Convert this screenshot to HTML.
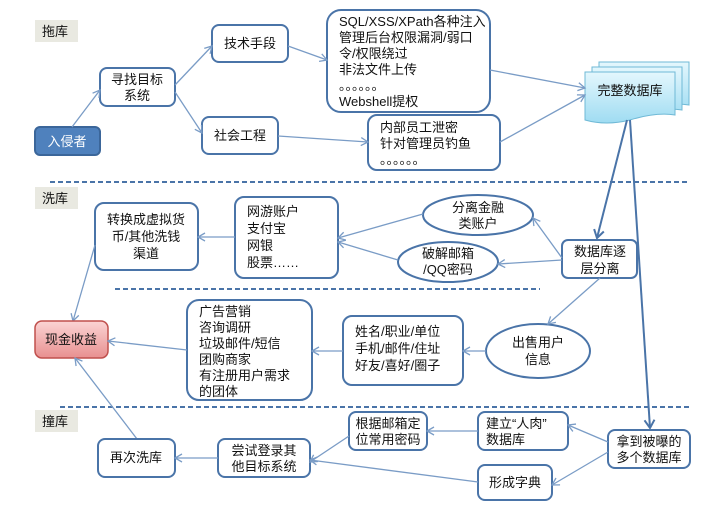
<!DOCTYPE html>
<html><head><meta charset="utf-8"><style>
html,body{margin:0;padding:0;background:#fff;}
svg{display:block;}
text{font-family:"Liberation Sans","Noto Sans CJK SC",sans-serif;font-size:13px;fill:#111;}
.b{fill:#fff;stroke:#4a74a8;stroke-width:2;}
.l{stroke:#7a9cc6;stroke-width:1.3;fill:none;marker-end:url(#a);}
.L{stroke:#4a74a8;stroke-width:2;fill:none;marker-end:url(#a2);}
.d{stroke:#4a74a8;stroke-width:2;stroke-dasharray:5,3;}
</style></head><body>
<svg width="709" height="516" viewBox="0 0 709 516">
<defs>
<marker id="a" markerWidth="10" markerHeight="10" refX="8" refY="5" orient="auto" markerUnits="userSpaceOnUse"><path d="M1,1 L8,5 L1,9" fill="none" stroke="#7a9cc6" stroke-width="1.3"/></marker>
<marker id="a2" markerWidth="12" markerHeight="12" refX="9" refY="6" orient="auto" markerUnits="userSpaceOnUse"><path d="M1,1 L9,6 L1,11" fill="none" stroke="#4a74a8" stroke-width="2"/></marker>
<linearGradient id="p" x1="0" y1="0" x2="0" y2="1"><stop offset="0" stop-color="#fbd4d4"/><stop offset="1" stop-color="#e89090"/></linearGradient>
<linearGradient id="c" x1="0" y1="0" x2="0" y2="1"><stop offset="0" stop-color="#e4f7fd"/><stop offset="1" stop-color="#9fdcf2"/></linearGradient>
</defs>
<!-- labels -->
<rect x="35" y="20" width="43" height="22" fill="#e9e9e1"/><text x="42" y="36">拖库</text>
<rect x="35" y="187" width="43" height="22" fill="#e9e9e1"/><text x="42" y="203">洗库</text>
<rect x="35" y="410" width="43" height="22" fill="#e9e9e1"/><text x="42" y="426">撞库</text>
<!-- dashed -->
<line class="d" x1="50" y1="182" x2="690" y2="182"/>
<line class="d" x1="115" y1="289" x2="540" y2="289"/>
<line class="d" x1="60" y1="407" x2="690" y2="407"/>
<!-- top section -->
<rect x="35" y="127" width="65" height="28" rx="5" fill="#4f81bd" stroke="#3b669a" stroke-width="2"/><text x="67" y="146" text-anchor="middle" style="fill:#fff">入侵者</text>
<rect class="b" x="100" y="68" width="75" height="38" rx="7"/><text x="137" y="84" text-anchor="middle">寻找目标</text><text x="137" y="100" text-anchor="middle">系统</text>
<rect class="b" x="212" y="25" width="76" height="37" rx="7"/><text x="250" y="48" text-anchor="middle">技术手段</text>
<rect class="b" x="202" y="117" width="76" height="37" rx="7"/><text x="240" y="140" text-anchor="middle">社会工程</text>
<rect class="b" x="327" y="10" width="163" height="102" rx="14"/>
<text x="339" y="26">SQL/XSS/XPath各种注入</text><text x="339" y="42">管理后台权限漏洞/弱口</text><text x="339" y="58">令/权限绕过</text><text x="339" y="74">非法文件上传</text><text x="339" y="90">。。。。。。</text><text x="339" y="106">Webshell提权</text>
<rect class="b" x="368" y="115" width="132" height="55" rx="9"/><text x="380" y="132">内部员工泄密</text><text x="380" y="148">针对管理员钓鱼</text><text x="380" y="164">。。。。。。</text>
<g stroke="#6fb9d6" stroke-width="1" fill="url(#c)">
<path d="M599,62 H689 V105 Q670,102 644,110 Q620,116 599,110 Z"/>
<path d="M592,67 H682 V110 Q663,107 637,115 Q613,121 592,115 Z"/>
<path d="M585,72 H675 V115 Q656,112 630,120 Q606,126 585,120 Z"/>
</g>
<text x="630" y="95" text-anchor="middle">完整数据库</text>
<path class="l" d="M72,127 L100,90"/>
<path class="l" d="M175,85 L212,46"/>
<path class="l" d="M175,92 L202,133"/>
<path class="l" d="M288,46 L327,60"/>
<path class="l" d="M278,136 L368,142"/>
<path class="l" d="M490,70 L585,88"/>
<path class="l" d="M500,142 L585,95"/>
<path class="L" d="M627,120 L597,238"/>
<path class="L" d="M630,120 L650,428"/>
<!-- middle -->
<rect class="b" x="95" y="203" width="103" height="67" rx="9"/><text x="146" y="224" text-anchor="middle">转换成虚拟货</text><text x="146" y="241" text-anchor="middle">币/其他洗钱</text><text x="146" y="258" text-anchor="middle">渠道</text>
<rect class="b" x="235" y="197" width="103" height="81" rx="9"/><text x="247" y="216">网游账户</text><text x="247" y="233">支付宝</text><text x="247" y="250">网银</text><text x="247" y="267">股票……</text>
<ellipse class="b" cx="478" cy="215" rx="55" ry="20"/><text x="478" y="212" text-anchor="middle">分离金融</text><text x="478" y="228" text-anchor="middle">类账户</text>
<ellipse class="b" cx="448" cy="262" rx="50" ry="20"/><text x="448" y="258" text-anchor="middle">破解邮箱</text><text x="448" y="274" text-anchor="middle">/QQ密码</text>
<rect class="b" x="562" y="240" width="75" height="38" rx="6"/><text x="600" y="256" text-anchor="middle">数据库逐</text><text x="600" y="273" text-anchor="middle">层分离</text>
<path class="l" d="M562,258 L533,218"/>
<path class="l" d="M562,260 L498,264"/>
<path class="l" d="M423,214 L338,238"/>
<path class="l" d="M398,260 L338,242"/>
<path class="l" d="M235,237 L198,237"/>
<path class="l" d="M95,245 L73,321"/>
<rect x="35" y="321" width="73" height="37" rx="7" fill="url(#p)" stroke="#c0504d" stroke-width="1.5"/><text x="71" y="344" text-anchor="middle">现金收益</text>
<rect class="b" x="187" y="300" width="125" height="100" rx="12"/>
<text x="199" y="316">广告营销</text><text x="199" y="332">咨询调研</text><text x="199" y="348">垃圾邮件/短信</text><text x="199" y="364">团购商家</text><text x="199" y="380">有注册用户需求</text><text x="199" y="396">的团体</text>
<rect class="b" x="343" y="316" width="120" height="69" rx="9"/><text x="355" y="336">姓名/职业/单位</text><text x="355" y="353">手机/邮件/住址</text><text x="355" y="370">好友/喜好/圈子</text>
<ellipse class="b" cx="538" cy="351" rx="52" ry="27"/><text x="538" y="347" text-anchor="middle">出售用户</text><text x="538" y="364" text-anchor="middle">信息</text>
<path class="l" d="M600,278 L548,324"/>
<path class="l" d="M486,351 L463,351"/>
<path class="l" d="M343,351 L312,351"/>
<path class="l" d="M187,350 L108,341"/>
<path class="l" d="M137,439 L75,358"/>
<!-- bottom -->
<rect class="b" x="98" y="439" width="77" height="38" rx="7"/><text x="136" y="462" text-anchor="middle">再次洗库</text>
<rect class="b" x="218" y="439" width="92" height="38" rx="7"/><text x="264" y="455" text-anchor="middle">尝试登录其</text><text x="264" y="471" text-anchor="middle">他目标系统</text>
<rect class="b" x="349" y="412" width="78" height="38" rx="7"/><text x="388" y="428" text-anchor="middle">根据邮箱定</text><text x="388" y="444" text-anchor="middle">位常用密码</text>
<rect class="b" x="478" y="412" width="90" height="38" rx="7"/><text x="486" y="428">建立“人肉”</text><text x="486" y="444">数据库</text>
<rect class="b" x="608" y="430" width="82" height="38" rx="7"/><text x="649" y="446" text-anchor="middle">拿到被曝的</text><text x="649" y="462" text-anchor="middle">多个数据库</text>
<rect class="b" x="478" y="465" width="74" height="35" rx="7"/><text x="515" y="487" text-anchor="middle">形成字典</text>
<path class="l" d="M608,442 L568,425"/>
<path class="l" d="M608,452 L552,485"/>
<path class="l" d="M478,431 L427,431"/>
<path class="l" d="M349,436 L310,462"/>
<path class="l" d="M478,482 L310,460"/>
<path class="l" d="M218,458 L175,458"/>
</svg>
</body></html>
